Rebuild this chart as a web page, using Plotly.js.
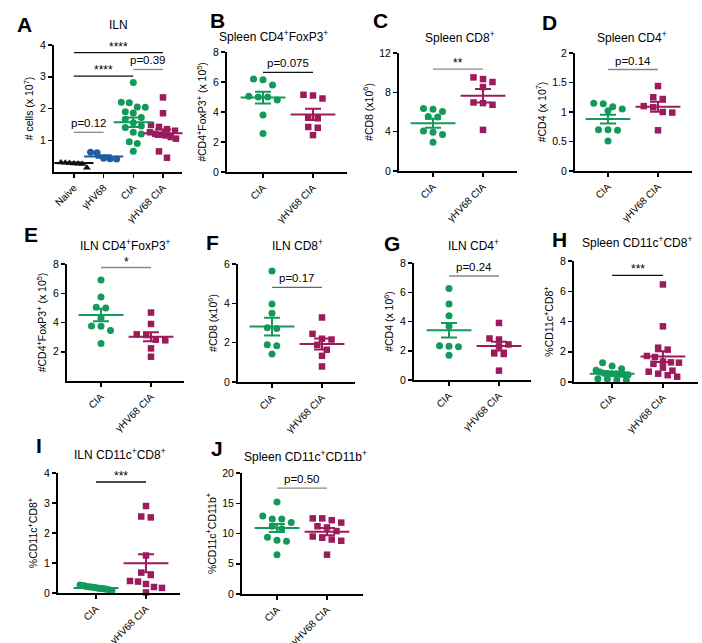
<!DOCTYPE html>
<html>
<head>
<meta charset="utf-8">
<script src="https://cdn.plot.ly/plotly-3.0.1.min.js"></script>
<style>html,body{margin:0;padding:0;background:#fff;}#chart{width:702px;height:643px;}</style>
</head>
<body>
<div id="chart"></div>
<script>
// ---------------- DATA ----------------
const catsA = ['Naive', 'γHV68', 'CIA', 'γHV68 CIA'];
const cats2 = ['CIA', 'γHV68 CIA'];

// Panel A: ILN cells (x10^7)
const A_naive  = [0.30, 0.29, 0.28, 0.27, 0.26, 0.25, 0.13];
const A_ghv    = [0.62, 0.61, 0.43, 0.42, 0.41];
const A_cia    = [2.82, 2.20, 2.18, 2.05, 2.04, 1.90, 1.86, 1.72, 1.66, 1.55, 1.45, 1.40, 1.25, 1.20, 0.95, 0.90, 0.65];
const A_ghvcia = [2.35, 1.85, 1.48, 1.42, 1.35, 1.30, 1.25, 1.20, 1.18, 1.15, 1.10, 1.05, 0.65, 0.45];
const A_mean   = [0.28, 0.49, 1.57, 1.22];
const A_sem    = [0.02, 0.04, 0.15, 0.12];

// Panel B: Spleen CD4+FoxP3+ (x10^5)
const B_cia    = [6.20, 6.15, 5.80, 5.05, 5.00, 5.00, 4.80, 3.80, 2.57];
const B_ghvcia = [5.15, 5.10, 4.90, 3.62, 3.58, 3.00, 2.95, 2.46];
const B_mean   = [4.96, 3.84];
const B_sem    = [0.39, 0.37];

// Panel C: Spleen CD8+ (x10^6)
const C_cia    = [6.36, 6.29, 6.05, 5.54, 5.50, 4.08, 3.95, 3.70, 2.93];
const C_ghvcia = [9.52, 9.35, 9.05, 8.54, 6.97, 6.90, 6.73, 4.18];
const C_mean   = [4.86, 7.65];
const C_sem    = [0.45, 0.68];

// Panel D: Spleen CD4+ (x10^7)
const D_cia    = [1.15, 1.14, 1.09, 1.05, 1.02, 0.70, 0.70, 0.69, 0.51];
const D_ghvcia = [1.44, 1.25, 1.22, 1.10, 1.08, 1.00, 0.99, 0.69];
const D_mean   = [0.88, 1.09];
const D_sem    = [0.075, 0.085];

// Panel E: ILN CD4+FoxP3+ (x10^5)
const E_cia    = [6.90, 5.75, 5.05, 5.00, 4.30, 3.76, 3.74, 3.45, 2.57];
const E_ghvcia = [4.68, 3.90, 3.19, 3.14, 2.82, 2.78, 2.23, 1.66];
const E_mean   = [4.51, 3.03];
const E_sem    = [0.43, 0.31];

// Panel F: ILN CD8+ (x10^6)
const F_cia    = [5.64, 3.97, 3.50, 2.76, 2.72, 1.89, 1.84, 1.42];
const F_ghvcia = [3.28, 2.45, 2.20, 2.16, 1.89, 1.64, 1.33, 0.79];
const F_mean   = [2.82, 1.93];
const F_sem    = [0.45, 0.28];

// Panel G: ILN CD4+ (x10^6)
const G_cia    = [6.25, 5.20, 4.40, 3.68, 2.34, 2.30, 2.28, 1.70];
const G_ghvcia = [3.90, 2.84, 2.77, 2.43, 2.30, 1.82, 1.78, 0.64];
const G_mean   = [3.40, 2.32];
const G_sem    = [0.50, 0.30];

// Panel H: Spleen CD11c+CD8+ (%)
const H_cia    = [1.27, 1.05, 0.88, 0.78, 0.66, 0.58, 0.56, 0.55, 0.54, 0.52, 0.50, 0.48, 0.22, 0.20, 0.15, 0.11];
const H_ghvcia = [6.45, 3.68, 2.27, 2.14, 1.72, 1.65, 1.35, 1.30, 1.28, 1.20, 0.95, 0.75, 0.68, 0.55, 0.45, 0.35];
const H_mean   = [0.54, 1.68];
const H_sem    = [0.07, 0.35];

// Panel I: ILN CD11c+CD8+ (%)
const I_cia    = [0.27, 0.25, 0.24, 0.22, 0.21, 0.20, 0.19, 0.18, 0.17, 0.16, 0.15, 0.14, 0.13, 0.12, 0.10, 0.08];
const I_ghvcia = [2.90, 2.55, 2.52, 1.25, 0.68, 0.60, 0.40, 0.38, 0.30, 0.20, 0.17, 0.02];
const I_mean   = [0.17, 0.99];
const I_sem    = [0.02, 0.30];

// Panel J: Spleen CD11c+CD11b+ (%)
const J_cia    = [15.2, 12.9, 12.4, 12.4, 11.8, 11.2, 10.8, 9.4, 8.9, 8.7, 6.5];
const J_ghvcia = [12.5, 12.5, 12.2, 11.8, 11.2, 11.0, 10.4, 9.5, 9.3, 9.0, 8.8, 6.5];
const J_mean   = [10.9, 10.3];
const J_sem    = [0.65, 0.60];

// significance comparisons: [fromCat, toCat, level, label]
const A_sig = [[0, 1, 1.25, 'p=0.12'], [0, 2, 3.02, '****'], [2, 3, 3.23, 'p=0.39'], [0, 3, 3.76, '****']];
const B_sig = [[0, 1, 6.64, 'p=0.075']];
const C_sig = [[0, 1, 10.37, '**']];
const D_sig = [[0, 1, 1.72, 'p=0.14']];
const E_sig = [[0, 1, 7.76, '*']];
const F_sig = [[0, 1, 4.81, 'p=0.17']];
const G_sig = [[0, 1, 7.11, 'p=0.24']];
const H_sig = [[0, 1, 7.05, '***']];
const I_sig = [[0, 1, 3.70, '***']];
const J_sig = [[0, 1, 17.5, 'p=0.50']];

// ---------------- STYLE ----------------
const W = 702, H = 643;
const GREEN = '#139a5b', MAGENTA = '#9d1b5b', BLUE = '#1f5d9f', BLACK = '#111111';
const FONT = 'Arial, "Liberation Sans", Helvetica, sans-serif';

// panel layout (pixel boxes)
const panels = [
  {letter: 'A', title: 'ILN', cats: catsA, groups: [A_naive, A_ghv, A_cia, A_ghvcia],
   colors: [BLACK, BLUE, GREEN, MAGENTA], symbols: ['triangle-up', 'circle', 'circle', 'square'],
   mean: A_mean, sem: A_sem, sig: A_sig,
   box: [54, 45, 182, 172], yr: [0, 4], tv: [1, 2, 3, 4], xr: [-0.67, 3.64],
   ytitle: '# cells (x 10<sup>7</sup>)', tpos: [118, 25], lpos: [24, 24], meanW: 28, sp: 8, maxHalf: 13,
   sigColors: ['#888', BLACK, '#888', BLACK]},
  {letter: 'B', title: 'Spleen CD4<sup>+</sup>FoxP3<sup>+</sup>', groups: [B_cia, B_ghvcia], mean: B_mean, sem: B_sem, sig: B_sig,
   box: [227, 52, 347, 172], yr: [0, 8], tv: [0, 2, 4, 6, 8], xr: [-0.72, 1.68],
   ytitle: '#CD4<sup>+</sup>FoxP3<sup>+</sup> (x 10<sup>5</sup>)', tpos: [273, 36], lpos: [217, 21], sigColors: [BLACK]},
  {letter: 'C', title: 'Spleen CD8<sup>+</sup>', groups: [C_cia, C_ghvcia], mean: C_mean, sem: C_sem, sig: C_sig,
   box: [399, 53, 517, 171], yr: [0, 12], tv: [0, 4, 8, 12], xr: [-0.68, 1.68],
   ytitle: '#CD8 (x10<sup>6</sup>)', tpos: [460, 37], lpos: [380, 21], sigColors: ['#888']},
  {letter: 'D', title: 'Spleen CD4<sup>+</sup>', groups: [D_cia, D_ghvcia], mean: D_mean, sem: D_sem, sig: D_sig,
   box: [575, 53, 692, 171], yr: [0, 2], tv: [0, 0.5, 1, 1.5, 2], xr: [-0.66, 1.68],
   ytitle: '#CD4 (x 10<sup>7</sup>)', tpos: [632, 37], lpos: [549, 22], sigColors: ['#888']},
  {letter: 'E', title: 'ILN CD4<sup>+</sup>FoxP3<sup>+</sup>', groups: [E_cia, E_ghvcia], mean: E_mean, sem: E_sem, sig: E_sig,
   box: [67, 264, 184, 381], yr: [0, 8], tv: [2, 4, 6, 8], xr: [-0.68, 1.66],
   ytitle: '#CD4<sup>+</sup>FoxP3<sup>+</sup> (x 10<sup>5</sup>)', tpos: [125, 245], lpos: [31, 235], sigColors: ['#888']},
  {letter: 'F', title: 'ILN CD8<sup>+</sup>', groups: [F_cia, F_ghvcia], mean: F_mean, sem: F_sem, sig: F_sig,
   box: [238, 264, 355, 382], yr: [0, 6], tv: [0, 2, 4, 6], xr: [-0.68, 1.66],
   ytitle: '#CD8 (x10<sup>6</sup>)', tpos: [297, 245], lpos: [212, 242], sigColors: ['#666']},
  {letter: 'G', title: 'ILN CD4<sup>+</sup>', groups: [G_cia, G_ghvcia], mean: G_mean, sem: G_sem, sig: G_sig,
   box: [414, 263, 531, 380], yr: [0, 8], tv: [0, 2, 4, 6, 8], xr: [-0.7, 1.64],
   ytitle: '#CD4 (x 10<sup>6</sup>)', tpos: [473, 245], lpos: [392, 243], sigColors: ['#888']},
  {letter: 'H', title: 'Spleen CD11c<sup>+</sup>CD8<sup>+</sup>', groups: [H_cia, H_ghvcia], mean: H_mean, sem: H_sem, sig: H_sig,
   box: [574, 261, 698, 382], yr: [0, 8], tv: [0, 2, 4, 6, 8], xr: [-0.75, 1.69],
   ytitle: '%CD11c<sup>+</sup>CD8<sup>+</sup>', tpos: [637, 242], lpos: [559, 240], sigColors: [BLACK]},
  {letter: 'I', title: 'ILN CD11c<sup>+</sup>CD8<sup>+</sup>', groups: [I_cia, I_ghvcia], mean: I_mean, sem: I_sem, sig: I_sig,
   box: [58, 473, 180, 593], yr: [0, 4], tv: [0, 1, 2, 3, 4], xr: [-0.76, 1.68],
   ytitle: '%CD11c<sup>+</sup>CD8<sup>+</sup>', tpos: [120, 454], lpos: [39, 445], sigColors: [BLACK]},
  {letter: 'J', title: 'Spleen CD11c<sup>+</sup>CD11b<sup>+</sup>', groups: [J_cia, J_ghvcia], mean: J_mean, sem: J_sem, sig: J_sig,
   box: [242, 473, 363, 594], yr: [0, 20], tv: [0, 5, 10, 15, 20], xr: [-0.7, 1.72],
   ytitle: '%CD11c<sup>+</sup>CD11b<sup>+</sup>', tpos: [305, 456], lpos: [217, 448], sigColors: ['#888']}
];

// beeswarm-like row layout (computed, scatter-dot-plot style)
function swarm(vals, cat, pyu, pxu, spacing, maxHalf, diam) {
  const idx = vals.map((v, i) => i).sort((a, b) => vals[b] - vals[a]);
  const xs = new Array(vals.length);
  let i = 0;
  while (i < idx.length) {
    const row = [idx[i]];
    let j = i + 1;
    while (j < idx.length && (vals[idx[i]] - vals[idx[j]]) * pyu < diam) { row.push(idx[j]); j++; }
    const n = row.length;
    let sp = spacing;
    if (n > 1) sp = Math.min(spacing, 2 * maxHalf / (n - 1));
    row.forEach((k, r) => { xs[k] = cat + ((r - (n - 1) / 2) * sp) / pxu; });
    i = j;
  }
  return xs;
}

const traces = [];
const layout = {
  width: W, height: H, margin: {l: 0, r: 0, t: 0, b: 0},
  paper_bgcolor: '#fff', plot_bgcolor: 'rgba(0,0,0,0)', showlegend: false,
  font: {family: FONT, color: '#000', size: 11},
  annotations: [], shapes: []
};

panels.forEach((p, pi) => {
  const n = pi + 1;
  const xa = n === 1 ? 'xaxis' : 'xaxis' + n;
  const ya = n === 1 ? 'yaxis' : 'yaxis' + n;
  const xr = n === 1 ? 'x' : 'x' + n;
  const yr = n === 1 ? 'y' : 'y' + n;
  const [x0, y0, x1, y1] = p.box;
  const cats = p.cats || cats2;
  const colors = p.colors || [GREEN, MAGENTA];
  const symbols = p.symbols || ['circle', 'square'];
  const pyu = (y1 - y0) / (p.yr[1] - p.yr[0]);
  const pxu = (x1 - x0) / (p.xr[1] - p.xr[0]);

  layout[xa] = {
    domain: [x0 / W, x1 / W], range: p.xr, anchor: yr,
    tickvals: cats.map((c, i) => i), ticktext: cats, tickangle: -45,
    showline: true, linecolor: '#000', linewidth: 2, ticks: 'outside', ticklen: 4, tickwidth: 1.5, tickcolor: '#000',
    showgrid: false, zeroline: false, tickfont: {size: 10, family: FONT}, fixedrange: true
  };
  layout[ya] = {
    domain: [1 - y1 / H, 1 - y0 / H], range: p.yr, anchor: xr,
    tickvals: p.tv, ticktext: p.tv.map(String),
    showline: true, linecolor: '#000', linewidth: 2, ticks: 'outside', ticklen: 4, tickwidth: 1.5, tickcolor: '#000',
    showgrid: false, zeroline: false, tickfont: {size: 10.5, family: FONT},
    title: {text: p.ytitle, font: {size: 10.5, family: FONT}, standoff: 4}, fixedrange: true
  };

  // points
  p.groups.forEach((g, gi) => {
    traces.push({
      type: 'scatter', mode: 'markers', xaxis: xr, yaxis: yr, cliponaxis: false,
      x: swarm(g, gi, pyu, pxu, p.sp || 9.5, p.maxHalf || 16, 7), y: g,
      marker: {symbol: symbols[gi], size: symbols[gi] === 'square' ? 6.5 : 7, color: colors[gi], line: {width: 0}},
      hoverinfo: 'y'
    });
  });
  // mean +/- SEM
  p.groups.forEach((g, gi) => {
    traces.push({
      type: 'scatter', mode: 'markers', xaxis: xr, yaxis: yr, cliponaxis: false,
      x: [gi], y: [p.mean[gi]],
      marker: {symbol: 'line-ew', size: p.meanW || 32, color: colors[gi], line: {width: 2, color: colors[gi]}},
      error_y: {type: 'data', array: [p.sem[gi]], visible: true, thickness: 2, width: 8, color: colors[gi]},
      hoverinfo: 'y'
    });
  });
  // significance lines
  p.sig.forEach((s, si) => {
    layout.shapes.push({type: 'line', xref: xr, yref: yr, x0: s[0], x1: s[1], y0: s[2], y1: s[2],
      line: {color: p.sigColors[si] || '#888', width: 1.3}});
    const star = s[3].indexOf('*') >= 0;
    layout.annotations.push({xref: xr, yref: yr, x: (s[0] + s[1]) / 2, y: s[2], text: s[3], showarrow: false,
      yanchor: 'bottom', yshift: star ? -3 : 1, font: {size: star ? 12 : 11.5, family: FONT, color: '#000'}});
  });
  // panel title
  layout.annotations.push({xref: 'paper', yref: 'paper', x: p.tpos[0] / W, y: 1 - p.tpos[1] / H, text: p.title,
    showarrow: false, xanchor: 'center', yanchor: 'middle', font: {size: 12, family: FONT, color: '#000'}});
  // panel letter
  layout.annotations.push({xref: 'paper', yref: 'paper', x: p.lpos[0] / W, y: 1 - p.lpos[1] / H, text: '<b>' + p.letter + '</b>',
    showarrow: false, xanchor: 'center', yanchor: 'middle', font: {size: 21, family: FONT, color: '#000'}});
});

Plotly.newPlot('chart', traces, layout, {displayModeBar: false, staticPlot: true});
</script>
</body>
</html>
